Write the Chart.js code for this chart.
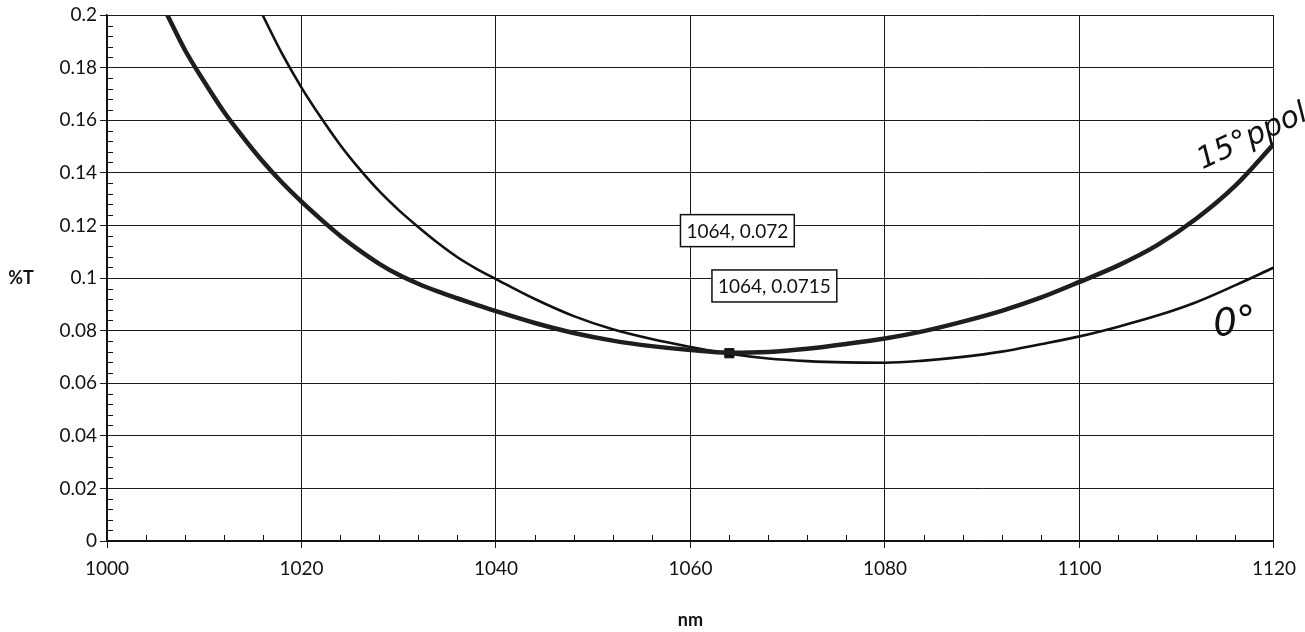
<!DOCTYPE html>
<html>
<head>
<meta charset="utf-8">
<script src="https://cdn.jsdelivr.net/npm/chart.js"></script>
<style>
  html, body { margin: 0; padding: 0; background: #fff; }
  #wrap { width: 1305px; height: 632px; }
</style>
</head>
<body>
<div id="wrap"><canvas id="chart"></canvas></div>
<script>
// 15 deg p-pol curve (grey, thick)
const ppolNm = [1005, 1006, 1008, 1010, 1012, 1014, 1016, 1018, 1020, 1022, 1024, 1026, 1028, 1030,
                1032, 1034, 1036, 1038, 1040, 1044, 1048, 1052, 1056, 1060, 1064, 1068, 1072,
                1076, 1080, 1084, 1088, 1092, 1096, 1100, 1104, 1108, 1112, 1116, 1120];
const ppolT  = [0.2087, 0.2015, 0.1868, 0.1746, 0.1633, 0.1535, 0.1444, 0.1363, 0.1290, 0.1223, 0.1160, 0.1104, 0.1054, 0.1012,
                0.0978, 0.0949, 0.0923, 0.0898, 0.0874, 0.0829, 0.0791, 0.0762, 0.0741, 0.0726, 0.0716, 0.0719, 0.0731,
                0.0749, 0.0770, 0.0798, 0.0834, 0.0875, 0.0925, 0.0985, 0.1048, 0.1125, 0.1225, 0.1350, 0.1510];

// 0 deg curve (black, thin)
const zeroNm = [1015, 1016, 1018, 1020, 1022, 1024, 1026, 1028, 1030, 1032, 1034, 1036, 1038, 1040,
                1044, 1048, 1052, 1056, 1060, 1064, 1068, 1072, 1076, 1080, 1084, 1088, 1092,
                1096, 1100, 1104, 1108, 1112, 1116, 1120];
const zeroT  = [0.2075, 0.2000, 0.1853, 0.1724, 0.1610, 0.1505, 0.1413, 0.1330, 0.1258, 0.1194, 0.1134, 0.1080, 0.1035, 0.0996,
                0.0920, 0.0855, 0.0805, 0.0768, 0.0738, 0.0712, 0.0694, 0.0684, 0.0679, 0.0678, 0.0686, 0.0700, 0.0720,
                0.0748, 0.0778, 0.0815, 0.0857, 0.0908, 0.0972, 0.1040];

// marked point and its data callouts
const markerNm = [1064];
const markerT = [0.0714];
const calloutNm = [1064, 1064];
const calloutT = [0.072, 0.0715];
const calloutText = ['1064, 0.072', '1064, 0.0715'];

// handwritten notes on the scan
const noteText = ['15\u00b0ppol', '0\u00b0'];
const noteNm = [1117.8, 1116];
const noteT = [0.1535, 0.0825];

const toPoints = (xs, ys) => xs.map((v, i) => ({ x: v, y: ys[i] }));

const extras = {
  id: 'extras',
  afterDatasetsDraw(chart) {
    const { ctx, chartArea: a, scales: { x, y } } = chart;
    ctx.save();

    // minor ticks, pointing into the plot
    ctx.strokeStyle = '#111';
    ctx.lineWidth = 1;
    ctx.beginPath();
    for (let v = 1000; v <= 1120; v += 4) {
      if (v % 20 === 0) continue;
      const px = Math.round(x.getPixelForValue(v)) + 0.5;
      ctx.moveTo(px, a.bottom);
      ctx.lineTo(px, a.bottom - 6);
    }
    for (let i = 1; i < 50; i++) {
      if (i % 5 === 0) continue;
      const py = Math.round(y.getPixelForValue(i * 0.004)) + 0.5;
      ctx.moveTo(a.left, py);
      ctx.lineTo(a.left + 6, py);
    }
    ctx.stroke();

    // callout boxes
    const offsets = [[8, -121], [45, -67]];
    ctx.font = '19px Lato';
    ctx.textAlign = 'center';
    ctx.textBaseline = 'middle';
    calloutText.forEach((t, i) => {
      const cx = x.getPixelForValue(calloutNm[i]) + offsets[i][0];
      const cy = y.getPixelForValue(calloutT[i]) + offsets[i][1];
      const w = ctx.measureText(t).width + 12;
      const h = 32;
      ctx.fillStyle = '#fff';
      ctx.fillRect(cx - w / 2, cy - h / 2, w, h);
      ctx.strokeStyle = '#111';
      ctx.lineWidth = 1.5;
      ctx.strokeRect(cx - w / 2, cy - h / 2, w, h);
      ctx.fillStyle = '#111';
      ctx.fillText(t, cx, cy + 1);
    });

    // y axis title, written horizontally
    ctx.font = 'bold 18px Lato';
    ctx.fillText('%T', 21, y.getPixelForValue(0.1));

    // handwritten notes
    const angles = [-0.44, -0.12];
    const sizes = [30, 38];
    noteText.forEach((t, i) => {
      ctx.save();
      ctx.translate(x.getPixelForValue(noteNm[i]), y.getPixelForValue(noteT[i]));
      ctx.rotate(angles[i]);
      ctx.font = 'italic ' + sizes[i] + 'px "DejaVu Sans"';
      ctx.fillStyle = '#111';
      ctx.fillText(t, 0, 0);
      ctx.restore();
    });
    ctx.restore();
  }
};

new Chart(document.getElementById('chart'), {
  type: 'line',
  data: {
    datasets: [
      { data: toPoints(ppolNm, ppolT), borderColor: '#1e1e1e', borderWidth: 4.5, pointRadius: 0,
        cubicInterpolationMode: 'monotone', clip: 0 },
      { data: toPoints(ppolNm, ppolT), borderColor: '#a0a0a0', borderWidth: 1.6, pointRadius: 0,
        cubicInterpolationMode: 'monotone', clip: 0 },
      { data: toPoints(zeroNm, zeroT), borderColor: '#111', borderWidth: 2.6, pointRadius: 0,
        cubicInterpolationMode: 'monotone', clip: 0 },
      { data: toPoints(markerNm, markerT), showLine: false, pointStyle: 'rect', pointRadius: 6.5,
        backgroundColor: '#111', borderColor: '#111' }
    ]
  },
  options: {
    responsive: true,
    maintainAspectRatio: false,
    animation: false,
    layout: { padding: { top: 15, right: 31, left: 0, bottom: 0 } },
    plugins: { legend: { display: false }, tooltip: { enabled: false } },
    scales: {
      x: {
        type: 'linear', min: 1000, max: 1120,
        afterFit: (s) => { s.height = 91; },
        ticks: { stepSize: 20, color: '#111', font: { family: 'Lato', size: 19 }, padding: 9, maxRotation: 0,
                 callback: (v) => String(v) },
        grid: { color: '#1a1a1a', lineWidth: 1, tickLength: 7 },
        border: { color: '#111', width: 1.5 },
        title: { display: true, text: 'nm', color: '#111', font: { family: 'Lato', size: 18, weight: 'bold' },
                 padding: { top: 0, bottom: 1 } }
      },
      y: {
        min: 0, max: 0.2,
        afterFit: (s) => { s.width = 107; },
        ticks: { stepSize: 0.02, color: '#111', font: { family: 'Lato', size: 19 }, padding: 3,
                 callback: (v) => String(Number(v.toFixed(2))) },
        grid: { color: '#1a1a1a', lineWidth: 1, tickLength: 7 },
        border: { color: '#111', width: 1.5 }
      }
    }
  },
  plugins: [extras]
});
</script>
</body>
</html>
